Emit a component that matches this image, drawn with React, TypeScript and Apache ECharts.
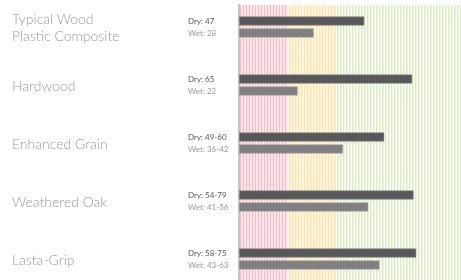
import React, { useEffect, useRef } from "react";
import * as echarts from "echarts";

const categories = ["Typical Wood\nPlastic Composite", "Hardwood", "Enhanced Grain", "Weathered Oak", "Lasta-Grip"];
const dryLabels = ["47", "65", "49-60", "54-79", "58-75"];
const wetLabels = ["28", "22", "36-42", "41-56", "43-63"];
const dryValues = [47, 65, 54.5, 65.5, 66.5];
const wetValues = [28, 22, 39, 48.5, 52.7];
// slip-risk zones: [start, end, zoneIndex]
const zones = [
  [0, 18.5, 0],
  [18.5, 36.5, 1],
  [36.5, 83.3, 2],
];
const axisMax = 83.3;

const zoneStyles = [
  { bg: "#fdf2f4", line: "#f4bac6" },
  { bg: "#fffaf0", line: "#fde0a4" },
  { bg: "#ffffff", line: "#d8eabc" },
];

export default function App() {
  const ref = useRef<HTMLDivElement>(null);
  useEffect(() => {
    if (!ref.current) return;
    const chart = echarts.init(ref.current, null, { renderer: "svg" });
    const font = "Lato, 'Open Sans', sans-serif";
    chart.setOption({
      animation: false,
      grid: { left: 239, right: 0, top: -2, height: 290, outerBoundsMode: "none", containLabel: false },
      xAxis: { type: "value", min: 0, max: axisMax, show: false },
      yAxis: [
        {
          type: "category",
          data: categories,
          inverse: true,
          position: "left",
          axisLine: { show: false },
          axisTick: { show: false },
          splitLine: { show: false },
          axisLabel: {
            align: "left",
            margin: 227,
            color: "#9a9a9a",
            fontSize: 14,
            lineHeight: 17,
            fontFamily: font,
            fontWeight: 300,
          },
        },
        {
          type: "category",
          data: categories,
          inverse: true,
          position: "left",
          offset: 0,
          axisLine: { show: false },
          axisTick: { show: false },
          splitLine: { show: false },
          axisLabel: {
            align: "left",
            margin: 51,
            fontFamily: font,
            formatter: (_v: string, i: number) => `{d|Dry: ${dryLabels[i]}}\n{w|Wet: ${wetLabels[i]}}`,
            rich: {
              d: { fontSize: 8, color: "#555555", lineHeight: 11.5, fontFamily: font },
              w: { fontSize: 8, color: "#9a9a9a", lineHeight: 11.5, fontFamily: font },
            },
          },
        },
      ],
      series: [
        {
          type: "custom",
          silent: true,
          z: 0,
          data: zones,
          renderItem: (params: any, api: any) => {
            const cs = params.coordSys;
            const x0 = api.coord([api.value(0), 0])[0];
            const x1 = api.coord([api.value(1), 0])[0];
            const idx = api.value(2);
            const st = zoneStyles[idx];
            const top = Math.max(cs.y, 5);
            const bottom = cs.y + cs.height;
            const children: any[] = [
              { type: "rect", shape: { x: x0, y: top, width: x1 - x0, height: bottom - top }, style: { fill: st.bg } },
            ];
            for (let x = x0 + 1.5; x < x1; x += 3) {
              children.push({
                type: "line",
                shape: { x1: x, y1: top, x2: x, y2: bottom },
                style: { stroke: st.line, lineWidth: 1.4 },
              });
            }
            if (idx === 0) {
              children.push({
                type: "line",
                shape: { x1: cs.x, y1: top - 1, x2: cs.x, y2: bottom },
                style: { stroke: "#b5b5b5", lineWidth: 1.5 },
              });
            }
            return { type: "group", children };
          },
        },
        {
          type: "bar",
          name: "Dry",
          data: dryValues,
          barWidth: 9,
          barGap: "33%",
          z: 2,
          itemStyle: { color: "#58585a", borderColor: "#8a8a8a", borderWidth: 0.6 },
        },
        {
          type: "bar",
          name: "Wet",
          data: wetValues,
          barWidth: 9,
          barGap: "33%",
          z: 2,
          itemStyle: { color: "#808082", borderColor: "#a5a5a5", borderWidth: 0.6 },
        },
      ],
    });
    return () => chart.dispose();
  }, []);
  return <div ref={ref} style={{ position: "fixed", left: 0, top: 0, width: 461, height: 280 }} />;
}
